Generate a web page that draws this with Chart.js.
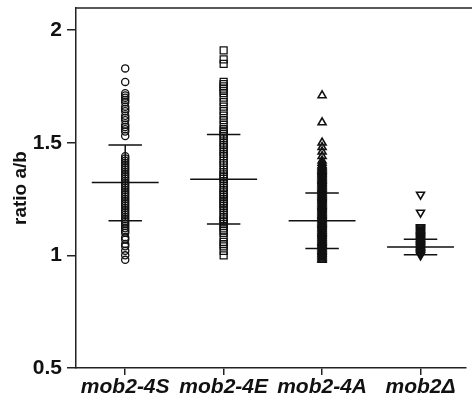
<!DOCTYPE html>
<html lang="en">
<head>
<meta charset="UTF-8">
<title>ratio a/b scatter</title>
<script src="https://cdn.jsdelivr.net/npm/chart.js@4"></script>
<style>
  html, body { margin: 0; padding: 0; background: #fff; overflow: hidden; }
</style>
</head>
<body>
<canvas id="chart" width="472" height="406"></canvas>
<script>
// categories and tick labels
const groups = ['mob2-4S', 'mob2-4E', 'mob2-4A', 'mob2\u0394'];
const yTicks = [0.5, 1, 1.5, 2];

// individual ratios per strain
const mob2_4S = [1.83, 1.77, 1.72, 1.71, 1.70, 1.69, 1.68, 1.66, 1.65, 1.64, 1.62, 1.61, 1.60, 1.58,
  1.57, 1.56, 1.55, 1.53, 1.44, 1.43, 1.42, 1.41, 1.40, 1.39, 1.38, 1.37, 1.36, 1.35, 1.34, 1.33,
  1.32, 1.31, 1.30, 1.29, 1.28, 1.27, 1.26, 1.25, 1.24, 1.23, 1.22, 1.21, 1.20, 1.19, 1.18, 1.17,
  1.16, 1.15, 1.14, 1.13, 1.12, 1.11, 1.10, 1.08, 1.07, 1.05, 1.04, 1.02, 1.00, 0.98];
const mob2_4E = [1.91, 1.87, 1.85, 1.77, 1.76, 1.75, 1.74, 1.73, 1.72, 1.70, 1.68, 1.66, 1.64, 1.62,
  1.60, 1.58, 1.56, 1.55, 1.54, 1.53, 1.52, 1.50, 1.49, 1.48, 1.46, 1.45, 1.44, 1.42, 1.41, 1.40,
  1.38, 1.37, 1.36, 1.35, 1.34, 1.33, 1.32, 1.30, 1.29, 1.28, 1.27, 1.26, 1.25, 1.24, 1.23, 1.22,
  1.21, 1.20, 1.18, 1.17, 1.16, 1.15, 1.14, 1.13, 1.12, 1.11, 1.10, 1.08, 1.06, 1.05, 1.04, 1.02, 1.00];
const mob2_4A = [1.71, 1.59, 1.50, 1.48, 1.46, 1.44, 1.42, 1.41, 1.40, 1.395, 1.39, 1.385, 1.38,
  1.375, 1.37, 1.365, 1.36, 1.355, 1.35, 1.345, 1.34, 1.335, 1.33, 1.325, 1.32, 1.315, 1.31, 1.305,
  1.30, 1.295, 1.29, 1.285, 1.28, 1.275, 1.27, 1.265, 1.26, 1.255, 1.25, 1.245, 1.24, 1.235, 1.23,
  1.225, 1.22, 1.215, 1.21, 1.205, 1.20, 1.195, 1.19, 1.185, 1.18, 1.175, 1.17, 1.165, 1.16, 1.155,
  1.15, 1.145, 1.14, 1.135, 1.13, 1.125, 1.12, 1.115, 1.11, 1.105, 1.10, 1.095, 1.09, 1.085, 1.08,
  1.075, 1.07, 1.065, 1.06, 1.055, 1.05, 1.045, 1.04, 1.035, 1.03, 1.025, 1.02, 1.015, 1.01, 1.005,
  1.00, 0.995, 0.99, 0.985, 0.98];
const mob2Delta = [1.27, 1.19, 1.125, 1.12, 1.115, 1.11, 1.105, 1.10, 1.095, 1.09, 1.085, 1.08,
  1.075, 1.07, 1.065, 1.06, 1.055, 1.05, 1.045, 1.04, 1.035, 1.03, 1.025, 1.02, 1.015, 1.01,
  1.005, 1.00];

// mean and mean +/- SD for each strain
const means = [1.323, 1.338, 1.154, 1.037];
const sdHigh = [1.49, 1.536, 1.277, 1.072];
const sdLow = [1.154, 1.139, 1.030, 1.003];

const series = [mob2_4S, mob2_4E, mob2_4A, mob2Delta];
const styles = [
  { pointStyle: 'circle', radius: 3.6, rotation: 0, width: 1.3 },
  { pointStyle: 'rect', radius: 4.9, rotation: 0, width: 1.3 },
  { pointStyle: 'triangle', radius: 4.6, rotation: 0, width: 1.6 },
  { pointStyle: 'triangle', radius: 4.6, rotation: 180, width: 1.6 }
];

const datasets = series.map((vals, i) => ({
  label: groups[i],
  data: vals.map(v => ({ x: i + 1, y: v })),
  pointStyle: styles[i].pointStyle,
  pointRadius: styles[i].radius,
  pointRotation: styles[i].rotation,
  borderColor: '#111',
  backgroundColor: 'rgba(0,0,0,0)',
  borderWidth: styles[i].width
}));

const FONT = "'Liberation Sans', Arial, sans-serif";

const errorBars = {
  id: 'errorBars',
  afterDatasetsDraw(chart) {
    const ctx = chart.ctx;
    const xs = chart.scales.x;
    const ys = chart.scales.y;
    ctx.save();
    ctx.strokeStyle = '#111';
    ctx.lineWidth = 1.5;
    means.forEach((m, i) => {
      const c = i + 1;
      ctx.beginPath();
      ctx.moveTo(xs.getPixelForValue(c - 0.34), ys.getPixelForValue(m));
      ctx.lineTo(xs.getPixelForValue(c + 0.34), ys.getPixelForValue(m));
      [sdHigh[i], sdLow[i]].forEach(v => {
        ctx.moveTo(xs.getPixelForValue(c - 0.17), ys.getPixelForValue(v));
        ctx.lineTo(xs.getPixelForValue(c + 0.17), ys.getPixelForValue(v));
      });
      ctx.moveTo(xs.getPixelForValue(c), ys.getPixelForValue(sdHigh[i]));
      ctx.lineTo(xs.getPixelForValue(c), ys.getPixelForValue(sdLow[i]));
      ctx.stroke();
    });
    // top frame line
    const a = chart.chartArea;
    ctx.strokeStyle = '#222';
    ctx.beginPath();
    ctx.moveTo(a.left, a.top);
    ctx.lineTo(chart.width, a.top);
    ctx.stroke();
    ctx.restore();
  }
};

new Chart(document.getElementById('chart'), {
  type: 'scatter',
  data: { datasets: datasets },
  options: {
    responsive: false,
    animation: false,
    layout: { padding: { top: 8, right: 0, left: 0, bottom: 0 } },
    plugins: { legend: { display: false }, tooltip: { enabled: false } },
    scales: {
      x: {
        type: 'linear',
        min: 0.5,
        max: 4.46,
        afterFit(scale) {
          scale.height = 38;
          scale.paddingLeft = 0;
          scale.paddingRight = 0;
        },
        afterBuildTicks(scale) { scale.ticks = groups.map((g, i) => ({ value: i + 1 })); },
        grid: { drawOnChartArea: false, drawTicks: true, tickLength: 7, color: '#222', lineWidth: 1.5 },
        border: { display: true, color: '#222', width: 1.5 },
        ticks: {
          padding: 0,
          color: '#111',
          font: { family: FONT, size: 21, weight: 'bold', style: 'italic' },
          maxRotation: 0,
          autoSkip: false,
          callback: (v) => groups[Math.round(v) - 1]
        }
      },
      y: {
        min: 0.5,
        max: 2.098,
        afterFit(scale) {
          scale.width = 76;
          scale.paddingTop = 0;
          scale.paddingBottom = 0;
        },
        afterBuildTicks(scale) { scale.ticks = yTicks.map(v => ({ value: v })); },
        grid: { drawOnChartArea: false, drawTicks: true, tickLength: 9, color: '#222', lineWidth: 1.5 },
        border: { display: true, color: '#222', width: 1.5 },
        title: {
          display: true,
          text: 'ratio a/b',
          color: '#111',
          padding: { top: 9, bottom: 0 },
          font: { family: FONT, size: 19, weight: 'bold' }
        },
        ticks: {
          padding: 5,
          color: '#111',
          font: { family: FONT, size: 21, weight: 'bold' },
          callback: (v) => String(v)
        }
      }
    }
  },
  plugins: [errorBars]
});
</script>
</body>
</html>
